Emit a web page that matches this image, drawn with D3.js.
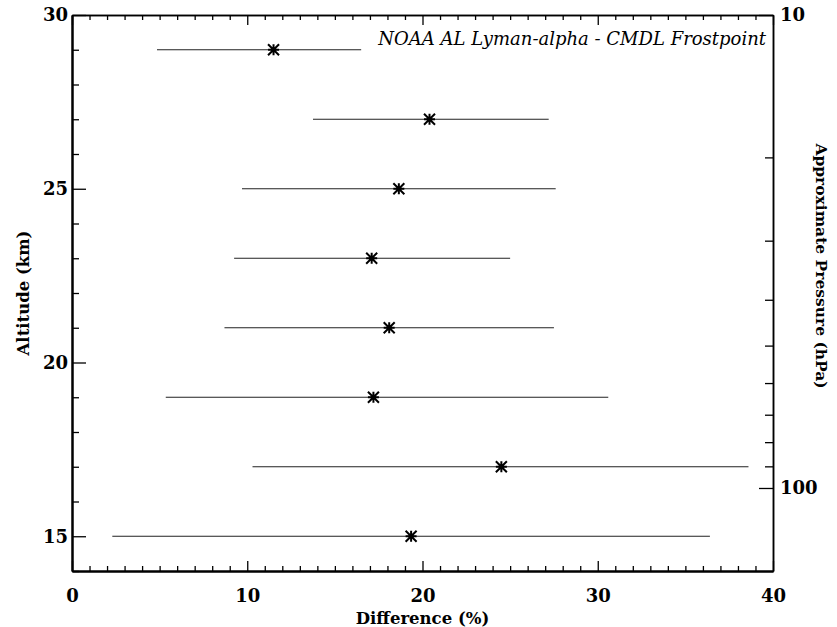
<!DOCTYPE html>
<html>
<head>
<meta charset="utf-8">
<title>Lyman-alpha vs Frostpoint</title>
<script src="https://cdn.jsdelivr.net/npm/d3@7"></script>
<style>
  body { margin: 0; background: #fff; }
</style>
</head>
<body>
<div id="chart"></div>
<script>
(function () {
  "use strict";

  // altitude levels (km)
  var altitudes = [29, 27, 25, 23, 21, 19, 17, 15];
  // mean difference (%)
  var meanDiff = [11.5, 20.4, 18.65, 17.1, 18.1, 17.2, 24.5, 19.35];
  // error bar limits (%)
  var lowDiff = [4.85, 13.75, 9.7, 9.25, 8.7, 5.35, 10.3, 2.3];
  var highDiff = [16.5, 27.2, 27.6, 25.0, 27.5, 30.6, 38.6, 36.4];

  var xTicks = [0, 10, 20, 30, 40];
  var yTicks = [15, 20, 25, 30];
  var pTicks = [10, 100];

  var FONT = "DejaVu Serif";

  var width = 837, height = 627;
  var left = 72, right = 773, top = 15, bottom = 571;

  var x = d3.scaleLinear().domain([0, 40]).range([left, right]);
  var y = d3.scaleLinear().domain([14, 30]).range([bottom, top]);
  var p = d3.scaleLog().domain([10, 149.8]).range([top, bottom]);

  var svg = d3.select("#chart").append("svg")
    .attr("width", width)
    .attr("height", height)
    .style("background", "#fff");

  var minorX = d3.range(0, 41).filter(function (d) { return d % 10 !== 0; });
  var minorY = d3.range(14, 31).filter(function (d) { return d % 5 !== 0; });
  var minorP = [20, 30, 40, 50, 60, 70, 80, 90];

  function style(g, w) {
    g.attr("font-family", FONT);
    g.select(".domain").attr("stroke", "#000").attr("stroke-width", w);
    g.selectAll(".tick line").attr("stroke", "#000").attr("stroke-width", 1.3);
    g.selectAll(".tick text")
      .attr("fill", "#000")
      .attr("font-family", FONT)
      .attr("font-size", 18)
      .attr("font-weight", "bold");
  }

  // bottom axis
  svg.append("g").attr("transform", "translate(0," + bottom + ")")
    .call(d3.axisBottom(x).tickValues(minorX).tickFormat("").tickSize(-5).tickSizeOuter(0))
    .call(function (g) { style(g, 2); });
  svg.append("g").attr("transform", "translate(0," + bottom + ")")
    .call(d3.axisBottom(x).tickValues(xTicks).tickFormat(d3.format("d")).tickSize(-10).tickSizeOuter(0).tickPadding(18))
    .call(function (g) { style(g, 2); });

  // top axis
  svg.append("g").attr("transform", "translate(0," + top + ")")
    .call(d3.axisTop(x).tickValues(minorX).tickFormat("").tickSize(-5).tickSizeOuter(0))
    .call(function (g) { style(g, 1.5); });
  svg.append("g").attr("transform", "translate(0," + top + ")")
    .call(d3.axisTop(x).tickValues(xTicks).tickFormat("").tickSize(-10).tickSizeOuter(0))
    .call(function (g) { style(g, 1.5); });

  // left axis
  svg.append("g").attr("transform", "translate(" + left + ",0)")
    .call(d3.axisLeft(y).tickValues(minorY).tickFormat("").tickSize(-7).tickSizeOuter(0))
    .call(function (g) { style(g, 2); });
  svg.append("g").attr("transform", "translate(" + left + ",0)")
    .call(d3.axisLeft(y).tickValues(yTicks).tickFormat(d3.format("d")).tickSize(-14).tickSizeOuter(0).tickPadding(4))
    .call(function (g) { style(g, 2); });

  // right axis (approximate pressure)
  svg.append("g").attr("transform", "translate(" + right + ",0)")
    .call(d3.axisRight(p).tickValues(minorP).tickFormat("").tickSize(-8).tickSizeOuter(0))
    .call(function (g) { style(g, 1.5); });
  svg.append("g").attr("transform", "translate(" + right + ",0)")
    .call(d3.axisRight(p).tickValues(pTicks).tickFormat(d3.format("d")).tickSize(-14).tickSizeOuter(0).tickPadding(7))
    .call(function (g) { style(g, 1.5); });

  // error bars
  var rows = altitudes.map(function (a, i) {
    return { alt: a, mean: meanDiff[i], lo: lowDiff[i], hi: highDiff[i] };
  });

  svg.append("g").selectAll("line")
    .data(rows).enter().append("line")
    .attr("x1", function (d) { return x(d.lo); })
    .attr("x2", function (d) { return x(d.hi); })
    .attr("y1", function (d) { return y(d.alt); })
    .attr("y2", function (d) { return y(d.alt); })
    .attr("stroke", "#222")
    .attr("stroke-width", 1.2);

  // asterisk markers
  var r = 5.5;
  var star = "M" + (-r) + ",0H" + r + "M0," + (-r) + "V" + r +
    "M" + (-r) + "," + (-r) + "L" + r + "," + r +
    "M" + (-r) + "," + r + "L" + r + "," + (-r);
  svg.append("g").selectAll("path")
    .data(rows).enter().append("path")
    .attr("transform", function (d) { return "translate(" + x(d.mean) + "," + y(d.alt) + ")"; })
    .attr("d", star)
    .attr("fill", "none")
    .attr("stroke", "#000")
    .attr("stroke-width", 2);

  // labels
  function label(t, size) {
    return t.attr("font-family", FONT).attr("font-size", size).attr("fill", "#000");
  }

  label(svg.append("text"), 18)
    .attr("x", 766).attr("y", 45)
    .attr("text-anchor", "end")
    .attr("font-style", "italic")
    .text("NOAA AL Lyman-alpha - CMDL Frostpoint");

  label(svg.append("text"), 16.5)
    .attr("x", (left + right) / 2).attr("y", 624)
    .attr("text-anchor", "middle")
    .attr("font-weight", "bold")
    .text("Difference (%)");

  label(svg.append("text"), 16.5)
    .attr("transform", "translate(29," + ((top + bottom) / 2) + ") rotate(-90)")
    .attr("text-anchor", "middle")
    .attr("font-weight", "bold")
    .text("Altitude (km)");

  label(svg.append("text"), 15.5)
    .attr("transform", "translate(816," + 266 + ") rotate(90)")
    .attr("text-anchor", "middle")
    .attr("font-weight", "bold")
    .text("Approximate Pressure (hPa)");
})();
</script>
</body>
</html>
